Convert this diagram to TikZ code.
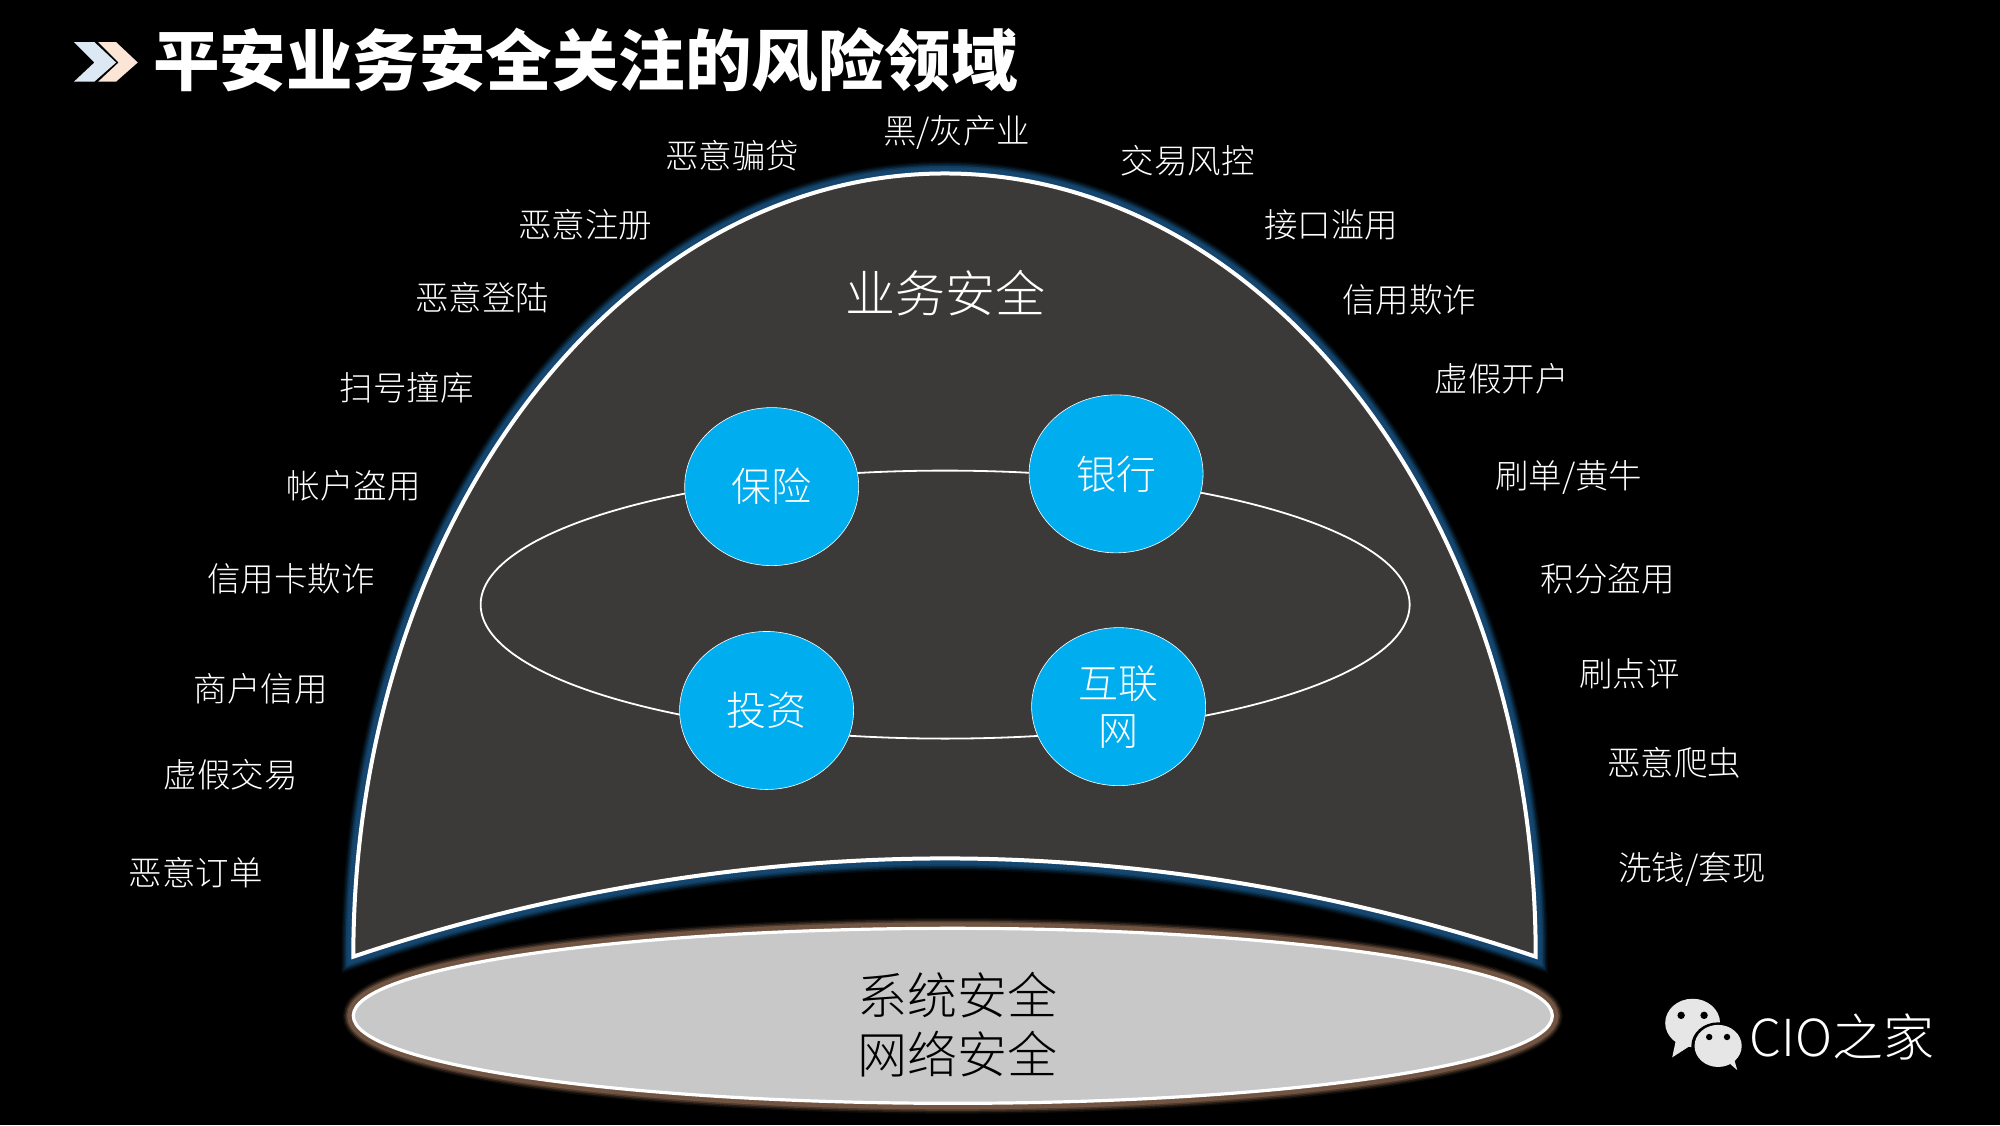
\documentclass[tikz,border=0pt]{standalone}
\usepackage{fontspec}
\setmainfont{Noto Sans CJK SC Light}
\newfontfamily\titlefont{Noto Sans CJK SC Black}
\usetikzlibrary{shapes.geometric}
\definecolor{bgblack}{HTML}{000000}
\definecolor{domefill}{HTML}{3B3A39}
\definecolor{domeglow}{HTML}{14466F}
\definecolor{baseglow}{HTML}{7A5C48}
\definecolor{basefill}{HTML}{C8C8C8}
\definecolor{bubble}{HTML}{00AEEF}
\definecolor{chevblue}{HTML}{DCE9F5}
\definecolor{chevpeach}{HTML}{FBE5D6}
\definecolor{wechat}{HTML}{E6E6E6}
\tikzset{
  risk/.style={text=white,font=\fontsize{33.5}{38}\selectfont,inner sep=0pt},
  biz/.style={ellipse,fill=bubble,draw=white,line width=.6pt,outer sep=0pt,minimum width=174pt,minimum height=158pt,inner sep=0pt,align=center,text=white,font=\fontsize{40}{47}\selectfont},
  head/.style={text=white,font=\fontsize{50}{60}\selectfont,inner sep=0pt},
}
\begin{document}
\begin{tikzpicture}[x=1.2755pt,y=-1.2755pt]
\useasboundingbox (0,0) rectangle (1568,882);
\fill[bgblack] (0,0) rectangle (1568,882);
% chevrons
\fill[chevblue] (58,33) -- (74,33) -- (91,49) -- (74,64) -- (58,64) -- (74,49) -- cycle;
\fill[chevpeach] (77,33) -- (91,33) -- (108,49) -- (91,64) -- (77,64) -- (93,49) -- cycle;
\node[text=white,font=\titlefont\fontsize{66.5}{72}\selectfont,inner sep=0pt] (title) at (459,47) {平安业务安全关注的风险领域};
% dome
\def\domepath{(277,750) .. controls (277,411) and (485,136) .. (741,136) .. controls (997,136) and (1204,411) .. (1204,750) .. controls (1040,695) and (880,673) .. (741,673) .. controls (602,673) and (440,695) .. (277,750) -- cycle}
\foreach \w/\o in {24/.15,21/.25,18/.4,15/.7,12/1}{
  \draw[draw=domeglow,line width=\w pt,opacity=\o,line join=miter] \domepath;
}
\fill[domefill] \domepath;
\draw[white,line width=4pt,line join=miter] \domepath;
% base ellipse
\foreach \w/\o in {21/.12,18/.25,15/.45,12/.8}{
  \draw[draw=baseglow,line width=\w pt,opacity=\o] (747,796.4) ellipse [x radius=470,y radius=68.6];
}
\node[ellipse,fill=basefill,draw=white,line width=3.2pt,outer sep=0pt,minimum width=1199pt,minimum height=175pt,inner sep=0pt] (base) at (747,796.4) {};
\node[text=black,align=center,font=\fontsize{50}{59}\selectfont,inner sep=0pt] (basetxt) at (751,803.5) {系统安全\\网络安全};
% ring and circles
\node[ellipse,draw=white,line width=1.8pt,outer sep=0pt,minimum width=929pt,minimum height=268pt,inner sep=0pt] (ring) at (741,474) {};
\node[head] (bizsec) at (741,230) {业务安全};
\node[biz] (bx) at (605,381.5) {保险};
\node[biz] (yh) at (875,371.5) {银行};
\node[biz] (tz) at (601,557) {投资};
\node[biz] (hl) at (877,554) {互联\\网};
% risk labels
\node[risk] (r1) at (574,122) {恶意骗贷};
\node[risk] (r2) at (750,104) {黑/灰产业};
\node[risk] (r3) at (931,126) {交易风控};
\node[risk] (r4) at (459,176) {恶意注册};
\node[risk] (r5) at (1043.5,176) {接口滥用};
\node[risk] (r6) at (378,233) {恶意登陆};
\node[risk] (r7) at (1105,235) {信用欺诈};
\node[risk] (r8) at (319,304) {扫号撞库};
\node[risk] (r9) at (1177.5,297) {虚假开户};
\node[risk] (r10) at (277.5,381) {帐户盗用};
\node[risk] (r11) at (1230,374.5) {刷单/黄牛};
\node[risk] (r12) at (228,454) {信用卡欺诈};
\node[risk] (r13) at (1260.5,454) {积分盗用};
\node[risk] (r14) at (204.5,540) {商户信用};
\node[risk] (r15) at (1277.5,528) {刷点评};
\node[risk] (r16) at (181,607) {虚假交易};
\node[risk] (r17) at (1312.5,598) {恶意爬虫};
\node[risk] (r18) at (153.5,684) {恶意订单};
\node[risk] (r19) at (1326.5,681.5) {洗钱/套现};
% wechat logo
\fill[wechat] (1327,802) ellipse [x radius=21.5,y radius=19];
\fill[wechat] (1314,815) -- (1311,829) -- (1328,818) -- cycle;
\fill[black] (1347,820) ellipse [x radius=21,y radius=18.5];
\fill[wechat] (1347,820) ellipse [x radius=18.5,y radius=16.5];
\fill[wechat] (1354,832) -- (1362,839) -- (1358,825) -- cycle;
\fill[black] (1318,796) circle (2.9) (1336,796) circle (2.9) (1340,813) circle (2.5) (1354,813) circle (2.5);
\node[text=white,font=\fontsize{51}{56}\selectfont,inner sep=0pt] (cio) at (1444,813) {CIO之家};
\end{tikzpicture}
\end{document}
